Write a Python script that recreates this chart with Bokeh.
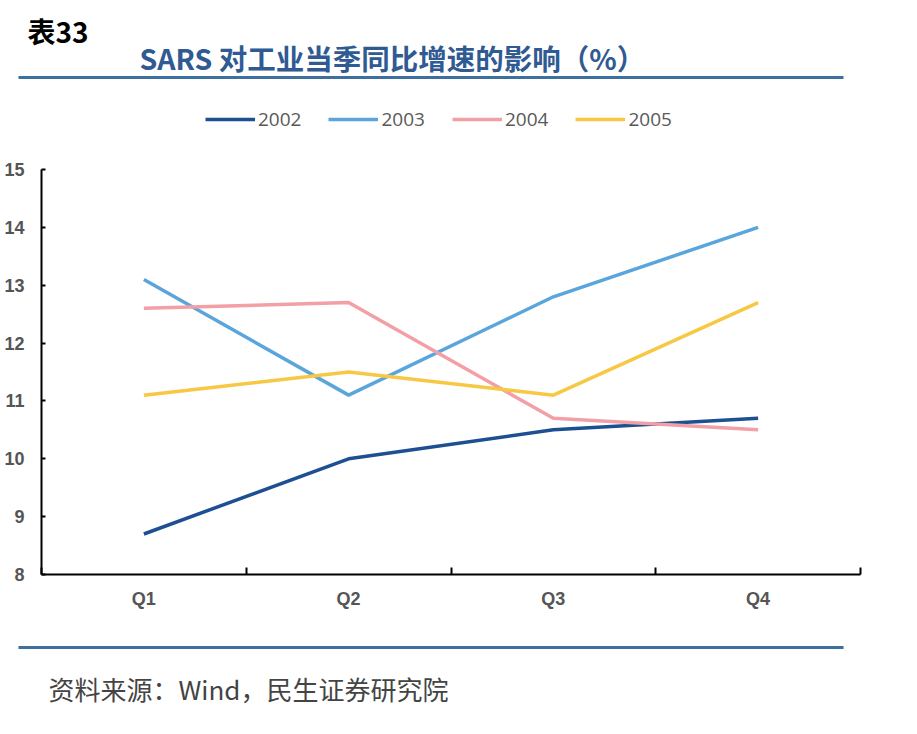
from bokeh.plotting import figure
from bokeh.layouts import column
from bokeh.models import (Range1d, FixedTicker, Label, BoxAnnotation, Legend, LegendItem)
from bokeh.embed import file_html
from bokeh.resources import INLINE

quarters = ["Q1", "Q2", "Q3", "Q4"]
years = ["2002", "2003", "2004", "2005"]
v2002 = [8.7, 10.0, 10.5, 10.7]
v2003 = [13.1, 11.1, 12.8, 14.0]
v2004 = [12.6, 12.7, 10.7, 10.5]
v2005 = [11.1, 11.5, 11.1, 12.7]
series = [v2002, v2003, v2004, v2005]
colors = ["#1d4f91", "#5aa6dc", "#f2a0a6", "#f7c843"]
y_ticks = [8, 9, 10, 11, 12, 13, 14, 15]
title_text = "SARS 对工业当季同比增速的影响（%）"
table_no = "表33"
source_text = "资料来源：Wind，民生证券研究院"

W = 900
RULE = "#3d6f9f"


def blank(height, y0, y1):
    f = figure(width=W, height=height, output_backend="svg", toolbar_location=None,
               x_range=Range1d(0, W), y_range=Range1d(y1, y0),
               x_axis_type=None, y_axis_type=None,
               min_border=0, min_border_left=0, min_border_right=0,
               min_border_top=0, min_border_bottom=0, frame_align=False)
    f.outline_line_color = None
    f.grid.visible = False
    f.border_fill_color = "white"
    f.background_fill_color = "white"
    return f

# ---------- header (page y 0..95) ----------
head = blank(95, 0, 95)
head.add_layout(Label(x=27, y=30, text=table_no, text_font="Noto Sans CJK SC",
                      text_font_style="bold", text_font_size="28px", text_color="black",
                      text_baseline="middle"))
head.add_layout(Label(x=139, y=57, text=title_text, text_font="Noto Sans CJK SC",
                      text_font_style="bold", text_font_size="28.5px", text_color="#2f5a92",
                      text_baseline="middle"))
head.add_layout(BoxAnnotation(left=18, right=843, top=75.5, bottom=78.5,
                              fill_color=RULE, fill_alpha=1, line_color=None))

# ---------- main chart (page y 95..620) ----------
FRAME_TOP, Y15, Y8 = 100, 169, 574
unit = (Y8 - Y15) / (y_ticks[-1] - y_ticks[0])
y_end = y_ticks[-1] + (Y15 - FRAME_TOP) / unit

xs = [i + 1 for i in range(len(quarters))]
p = figure(width=W, height=525, output_backend="svg", toolbar_location=None,
           x_range=Range1d(0.5, len(quarters) + 0.5), y_range=Range1d(y_ticks[0], y_end),
           min_border_left=41, min_border_right=W - 860, min_border_top=FRAME_TOP - 95,
           min_border_bottom=46, frame_align=False)
p.outline_line_color = None
p.grid.visible = False
p.background_fill_color = "white"
p.border_fill_color = "white"

renderers = []
for vals, c in zip(series, colors):
    renderers.append(p.line(xs, vals, line_color=c, line_width=3.5))

p.yaxis.ticker = FixedTicker(ticks=y_ticks)
p.yaxis.bounds = (y_ticks[0], y_ticks[-1])
p.yaxis.axis_line_width = 2
p.yaxis.axis_line_color = "black"
p.yaxis.major_tick_in = 4
p.yaxis.major_tick_out = 0
p.yaxis.major_tick_line_width = 2
p.yaxis.minor_tick_line_color = None
p.yaxis.major_label_text_font = "Liberation Sans"
p.yaxis.major_label_text_font_style = "bold"
p.yaxis.major_label_text_font_size = "18px"
p.yaxis.major_label_text_color = "#555555"
p.yaxis.major_label_standoff = 17

p.xaxis.ticker = FixedTicker(ticks=xs, minor_ticks=[i + 0.5 for i in range(len(quarters) + 1)])
p.xaxis.major_label_overrides = {x: q for x, q in zip(xs, quarters)}
p.xaxis.axis_line_width = 2
p.xaxis.axis_line_color = "black"
p.xaxis.major_tick_in = 0
p.xaxis.major_tick_out = 0
p.xaxis.minor_tick_in = 7
p.xaxis.minor_tick_out = 0
p.xaxis.minor_tick_line_width = 2
p.xaxis.minor_tick_line_color = "black"
p.xaxis.major_label_text_font = "Liberation Sans"
p.xaxis.major_label_text_font_style = "bold"
p.xaxis.major_label_text_font_size = "18px"
p.xaxis.major_label_text_color = "#555555"
p.xaxis.major_label_standoff = 14

legend = Legend(items=[LegendItem(label=y, renderers=[r]) for y, r in zip(years, renderers)],
                orientation="horizontal", location=(205 - 41, Y8 - 132),
                glyph_width=50, glyph_height=14, label_text_font="Open Sans",
                label_text_font_size="19px", label_text_color="#595959",
                spacing=27, label_standoff=3, border_line_color=None,
                background_fill_alpha=0, padding=0, margin=0)
p.add_layout(legend, "center")

# ---------- footer (page y 620..712) ----------
foot = blank(92, 620, 712)
foot.add_layout(BoxAnnotation(left=18, right=843, top=645.5, bottom=648.5,
                              fill_color=RULE, fill_alpha=1, line_color=None))
foot.add_layout(Label(x=48, y=688, text=source_text, text_font="Noto Sans CJK SC",
                      text_font_size="26px", text_color="#444444", text_baseline="middle"))

layout = column(head, p, foot, spacing=0)
open("out.html", "w").write(file_html(layout, INLINE))
